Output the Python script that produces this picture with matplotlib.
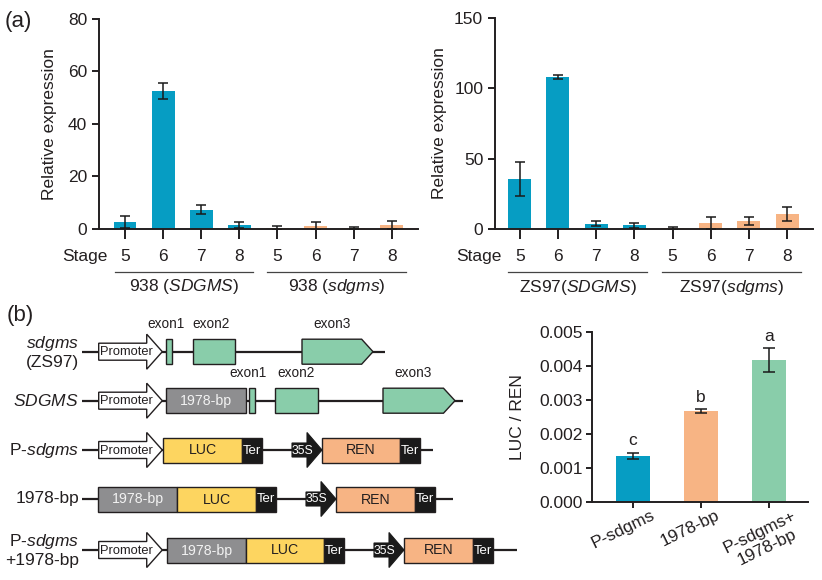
import numpy as np
import matplotlib
matplotlib.use('Agg')
import matplotlib.pyplot as plt
import matplotlib.transforms as mtransforms
from matplotlib.patches import Polygon, Rectangle

plt.rcParams['font.family'] = ['Liberation Sans', 'DejaVu Sans']
plt.rcParams['mathtext.fontset'] = 'custom'
plt.rcParams['mathtext.rm'] = 'Liberation Sans'
plt.rcParams['mathtext.it'] = 'Liberation Sans:italic'

# ---------------- data ----------------
stages = ['5', '6', '7', '8', '5', '6', '7', '8']
groups_938 = ['938 ($\\mathit{SDGMS}$)', '938 ($\\mathit{sdgms}$)']
mean_938 = [2.6, 52.5, 7.3, 1.5, 0.3, 1.0, 0.3, 1.4]
err_938 = [2.4, 3.0, 1.8, 1.1, 0.9, 1.4, 0.5, 1.4]

groups_zs97 = ['ZS97($\\mathit{SDGMS}$)', 'ZS97($\\mathit{sdgms}$)']
mean_zs97 = [35.5, 108.3, 3.4, 2.4, 0.3, 4.1, 5.5, 10.5]
err_zs97 = [12.0, 1.3, 1.8, 1.7, 0.9, 4.2, 2.6, 5.0]

luc_labels = ['P-sdgms', '1978-bp', 'P-sdgms+\n1978-bp']
luc_mean = [0.00136, 0.00268, 0.00418]
luc_err = [0.00009, 0.00006, 0.00035]
luc_letters = ['c', 'b', 'a']

# construct diagram: (kind, start, end)  in diagram units
row_labels = ['$\\mathit{sdgms}$\n(ZS97)', '$\\mathit{SDGMS}$', 'P-$\\mathit{sdgms}$',
              '1978-bp', 'P-$\\mathit{sdgms}$\n+1978-bp']
row_lines = [(82, 385), (82, 463), (82, 433), (82, 453), (82, 517)]
row_segments = [
    [('prom', 98.7, 162.3), ('exon', 166, 172), ('exon', 193, 235), ('exonend', 302, 373)],
    [('prom', 98.7, 162.3), ('frag', 166, 245.7), ('exon', 249, 255), ('exon', 275, 318),
     ('exonend', 383, 455)],
    [('prom', 98.7, 162.3), ('luc', 163, 242), ('ter', 242, 262), ('s35', 292, 322),
     ('ren', 322, 400), ('ter', 400, 420)],
    [('frag', 98, 177), ('luc', 177, 256), ('ter', 256, 276), ('s35', 306, 336),
     ('ren', 336, 415), ('ter', 415, 435)],
    [('prom', 98.7, 162.3), ('frag', 167, 246), ('luc', 246, 324), ('ter', 324, 344),
     ('s35', 374, 404), ('ren', 404, 473), ('ter', 473, 493)],
]
row_y = [351.7, 400.7, 450, 499, 550]
exon_labels = [[('exon1', 166), ('exon2', 211), ('exon3', 332)],
               [('exon1', 248), ('exon2', 296), ('exon3', 413)], [], [], []]

# ---------------- style ----------------
BLUE = '#069DC3'
ORANGE = '#F7B484'
GREEN = '#89CDAA'
YELLOW = '#FDD560'
GREY = '#8E8E90'
BLACK = '#1A1A1A'
DARK = '#231F20'
FS = 12.5
DFS = 9.3
BFS = 10.2

W, H = 822, 580
fig = plt.figure(figsize=(W / 100, H / 100), dpi=100)


def px_axes(l, t, r, b, **kw):
    return fig.add_axes([l / W, 1 - b / H, (r - l) / W, (b - t) / H], **kw)


def style_axes(ax):
    for s in ['top', 'right']:
        ax.spines[s].set_visible(False)
    for s in ['left', 'bottom']:
        ax.spines[s].set_linewidth(1.4)
        ax.spines[s].set_color(DARK)
    ax.tick_params(axis='y', length=5, width=1.4, color=DARK, labelsize=FS, pad=3.5,
                   labelcolor=DARK)


def expr_panel(l, t, r, b, x0px, dx, ymax, yticks, means, errs, groups, ylab_x, stage_x,
               grp_spans):
    ax = px_axes(l, t, r, b)
    x = np.arange(len(means))
    colors = [BLUE] * 4 + [ORANGE] * 4
    ax.bar(x, means, width=0.6, color=colors, zorder=2)
    ax.errorbar(x, means, yerr=errs, fmt='none', ecolor=BLACK, elinewidth=1.1,
                capsize=3.5, capthick=1.1, zorder=3)
    ax.set_xlim((l - x0px) / dx, (r - x0px) / dx)
    ax.set_ylim(0, ymax)
    ax.set_yticks(yticks)
    style_axes(ax)
    ax.set_xticks(x)
    ax.set_xticklabels([])
    ax.tick_params(axis='x', length=7.5, width=1.4, color=DARK)
    ax.set_ylabel('Relative expression', fontsize=FS, color=DARK)
    ax.yaxis.set_label_coords(ylab_x, 0.5)
    tr = mtransforms.blended_transform_factory(ax.transData, ax.transAxes)
    for xi, s in zip(x, stages):
        ax.text(xi, -0.133, s, transform=tr, ha='center', va='center', fontsize=FS,
                color=DARK)
    ax.text(stage_x, -0.133, 'Stage', transform=tr, ha='right', va='center', fontsize=FS,
            color=DARK)
    for (xs, xe), g in zip(grp_spans, groups):
        ax.plot([xs, xe], [-0.205, -0.205], transform=tr, clip_on=False, color='#444444',
                lw=0.9)
        ax.text((xs + xe) / 2, -0.278, g, transform=tr, ha='center', va='center',
                fontsize=FS, color=DARK)
    return ax


expr_panel(99, 19, 418, 228.7, 125, 38.1, 80, [0, 20, 40, 60, 80], mean_938, err_938,
           groups_938, -0.132, -0.45, [(-0.26, 3.36), (3.73, 7.38)])
expr_panel(495, 18.3, 813, 228.7, 519.7, 38.2, 150, [0, 50, 100, 150], mean_zs97, err_zs97,
           groups_zs97, -0.151, -0.47, [(-0.3, 3.34), (3.73, 7.37)])

# ---------------- LUC/REN bars ----------------
axb = px_axes(592, 332.3, 808, 501.7)
xb = np.arange(3)
axb.bar(xb, luc_mean, width=0.51, color=[BLUE, ORANGE, GREEN], zorder=2)
axb.errorbar(xb, luc_mean, yerr=luc_err, fmt='none', ecolor=BLACK, elinewidth=1.1,
             capsize=4.5, capthick=1.1, zorder=3)
axb.set_xlim((592 - 633) / 68, (808 - 633) / 68)
axb.set_ylim(0, 0.005)
axb.set_yticks([0, 0.001, 0.002, 0.003, 0.004, 0.005])
axb.set_yticklabels(['0.000', '0.001', '0.002', '0.003', '0.004', '0.005'])
style_axes(axb)
axb.tick_params(axis='y', length=4, pad=2.5)
axb.set_xticks(xb)
axb.set_xticklabels([])
axb.tick_params(axis='x', length=4, width=1.4, color=DARK)
axb.set_ylabel('LUC / REN', fontsize=FS, color=DARK)
axb.yaxis.set_label_coords(-0.31, 0.5)
trb = mtransforms.blended_transform_factory(axb.transData, axb.transAxes)
for xi, lab, off in zip(xb, luc_labels, [0.26, 0.21, 0.33]):
    axb.text(xi + off, -0.035, lab, transform=trb, ha='right', va='top', rotation=26,
             rotation_mode='anchor', fontsize=FS, color=DARK, multialignment='center')
for xi, m, e, let in zip(xb, luc_mean, luc_err, luc_letters):
    axb.annotate(let, (xi, m + e), xytext=(0, 3), textcoords='offset points',
                 ha='center', va='bottom', fontsize=FS, color=DARK)

# ---------------- construct diagram ----------------
dax = fig.add_axes([0, 0, 1, 1], zorder=-1)
dax.set_xlim(0, W)
dax.set_ylim(H, 0)
dax.axis('off')

fill = {'luc': YELLOW, 'ren': ORANGE, 'frag': GREY, 'exon': GREEN, 'exonend': GREEN,
        'ter': BLACK}
text_of = {'luc': ('LUC', DARK, BFS), 'ren': ('REN', DARK, BFS),
           'frag': ('1978-bp', '#F2F2F2', BFS), 'ter': ('Ter', 'white', 9.5)}
BOXH = 25
for lab, (ls, le), segs, y, exl in zip(row_labels, row_lines, row_segments, row_y,
                                       exon_labels):
    dax.plot([ls, le], [y, y], color=DARK, lw=1.6, zorder=1, solid_capstyle='butt')
    dax.text(79, y, lab, ha='right', va='center', fontsize=FS, color=DARK,
             linespacing=1.15)
    for kind, s, e in segs:
        if kind == 'prom':
            neck = s + (e - s) * 0.755
            pts = [(s, y - 8.5), (neck, y - 8.5), (neck, y - 17.5), (e, y), (neck, y + 17.5),
                   (neck, y + 8.5), (s, y + 8.5)]
            dax.add_patch(Polygon(pts, closed=True, facecolor='white', edgecolor=DARK,
                                  lw=1.0, zorder=3))
            dax.text(s + 1.5, y + 0.5, 'Promoter', ha='left', va='center', fontsize=DFS,
                     color=DARK, zorder=4)
        elif kind == 's35':
            neck = s + (e - s) * 0.5
            pts = [(s, y - 7), (neck, y - 7), (neck, y - 17.5), (e, y), (neck, y + 17.5),
                   (neck, y + 7), (s, y + 7)]
            dax.add_patch(Polygon(pts, closed=True, facecolor=BLACK, edgecolor=BLACK,
                                  lw=0.8, zorder=3))
            dax.text(s + 10.5, y + 0.5, '35S', ha='center', va='center', fontsize=8.8,
                     color='white', zorder=4)
        elif kind == 'exonend':
            sh = e - (e - s) * 0.16
            pts = [(s, y - BOXH / 2), (sh, y - BOXH / 2), (e, y), (sh, y + BOXH / 2),
                   (s, y + BOXH / 2)]
            dax.add_patch(Polygon(pts, closed=True, facecolor=GREEN, edgecolor=DARK,
                                  lw=1.0, zorder=3))
        else:
            dax.add_patch(Rectangle((s, y - BOXH / 2), e - s, BOXH, facecolor=fill[kind],
                                    edgecolor=DARK, lw=1.0, zorder=3))
            if kind in text_of:
                t, c, f = text_of[kind]
                dax.text((s + e) / 2, y + 0.5, t, ha='center', va='center', fontsize=f,
                         color=c, zorder=4)
    for t, xc in exl:
        dax.text(xc, y - 28, t, ha='center', va='center', fontsize=9.8, color=DARK)

# panel letters
fig.text(5 / W, 1 - 21 / H, '(a)', fontsize=16, ha='left', va='center', color=DARK)
fig.text(7 / W, 1 - 316 / H, '(b)', fontsize=16, ha='left', va='center', color=DARK)

fig.savefig('out.png', dpi=100)
